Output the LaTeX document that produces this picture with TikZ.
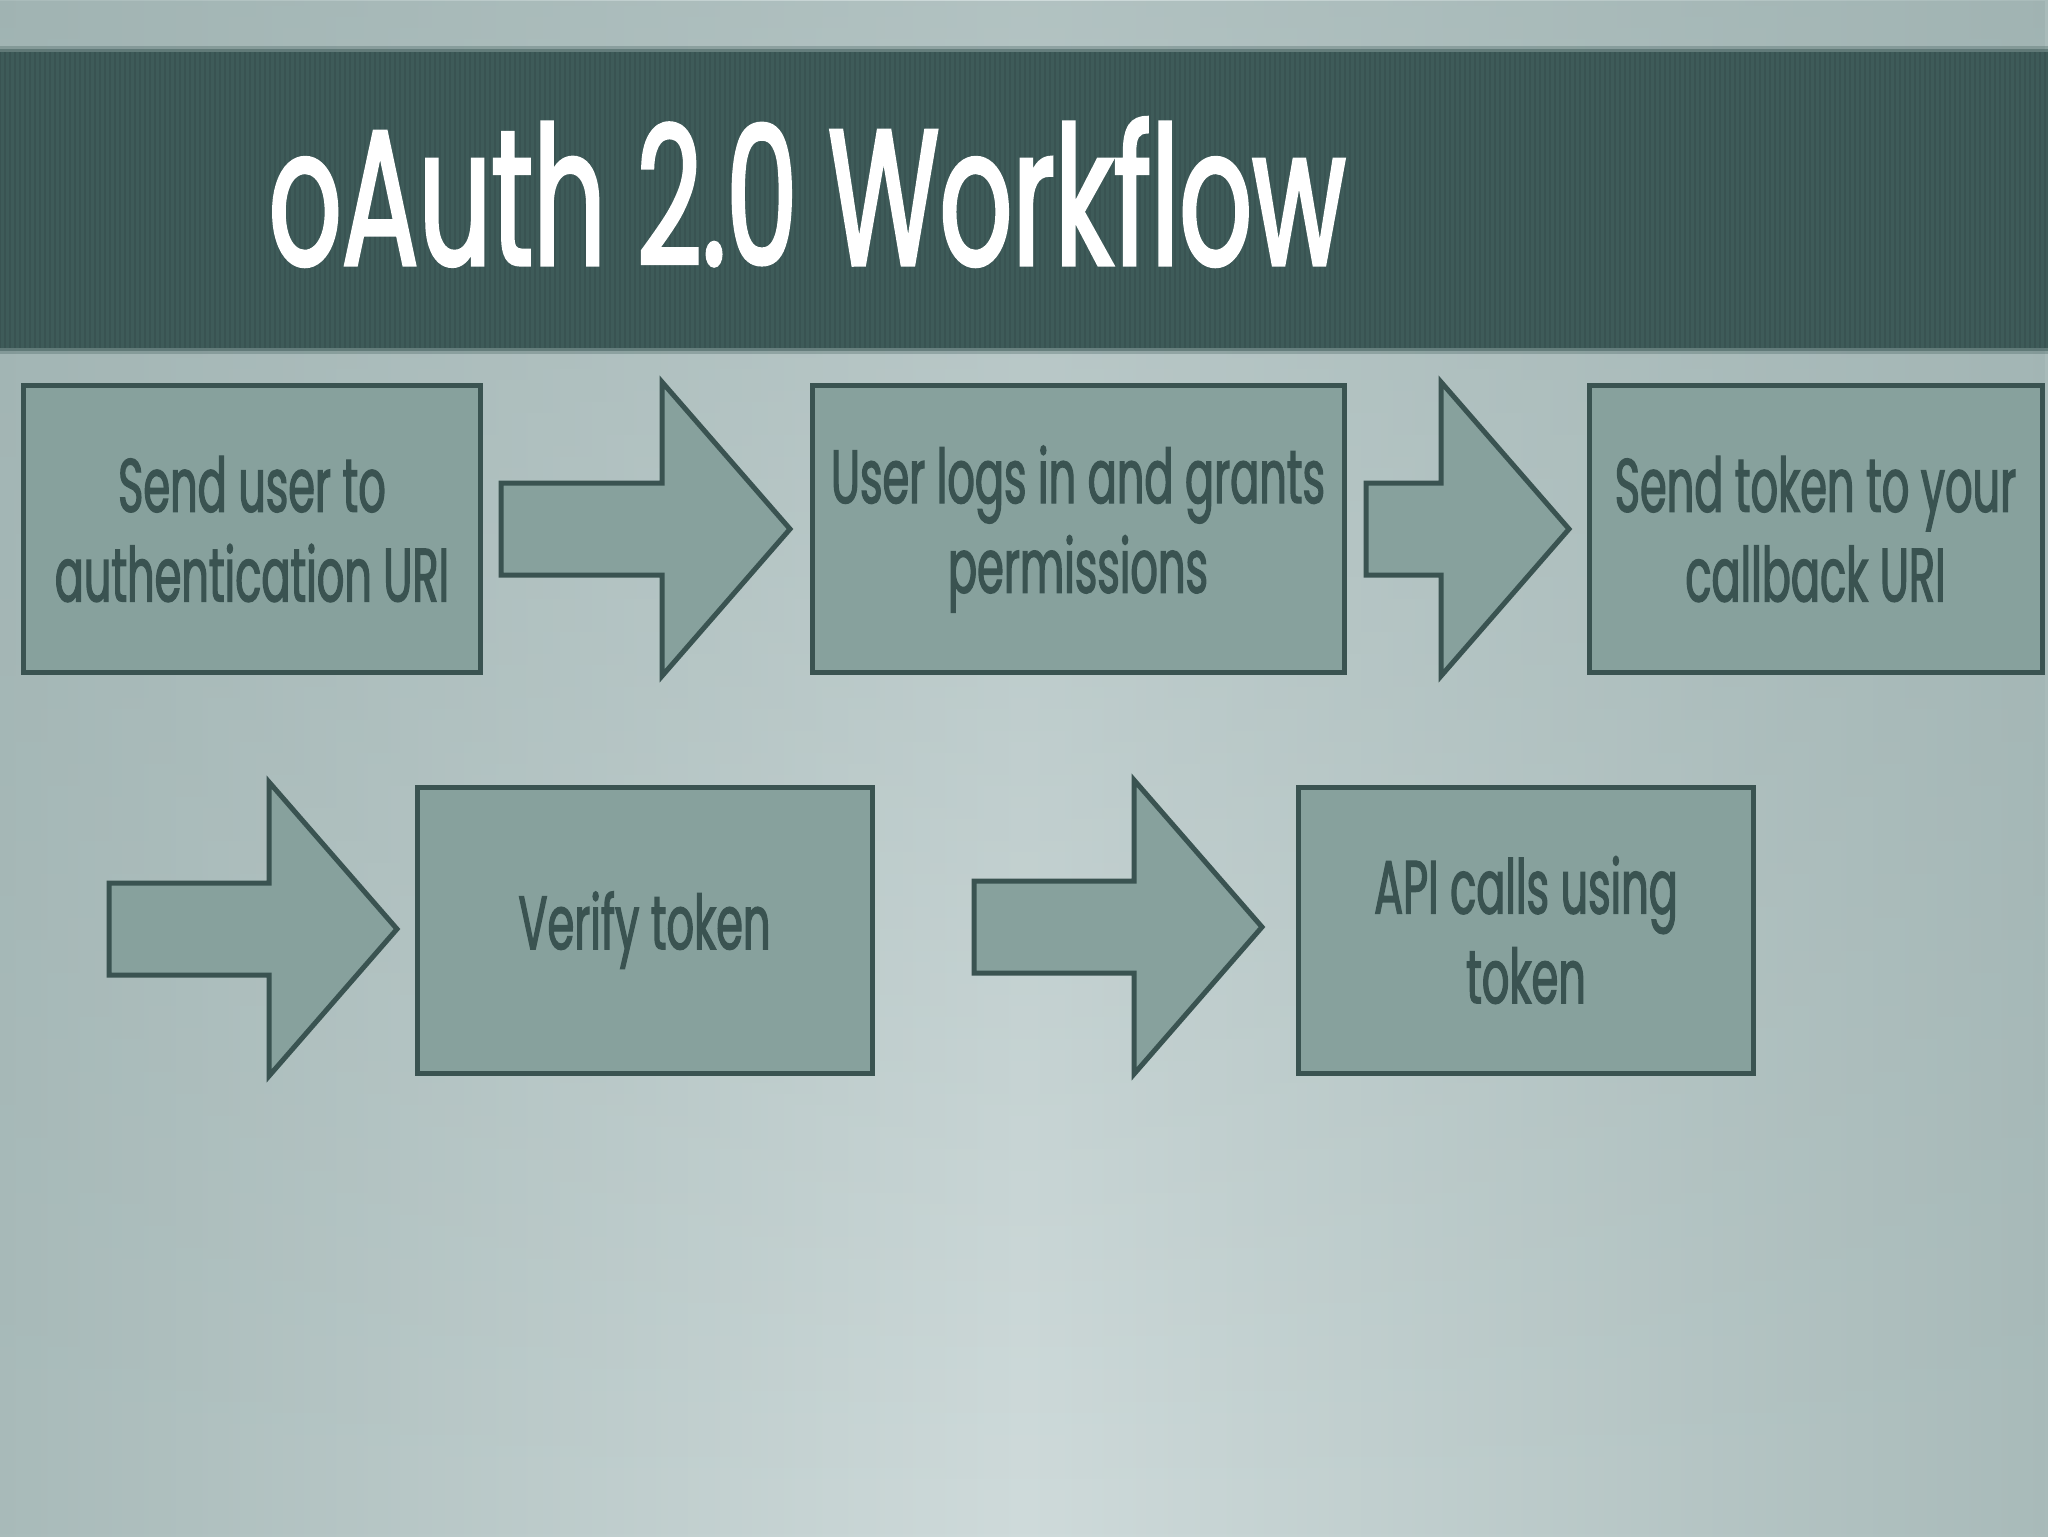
\documentclass[tikz,border=0pt]{standalone}
\usepackage{fontspec}
\setmainfont{Poppins}[FakeStretch=0.57, FakeBold=1.6]
\newfontfamily\titlefont{Poppins}[FakeStretch=0.59, FakeBold=1.6]
\usepackage{tikz}
\usetikzlibrary{fadings}
\definecolor{slidebar}{HTML}{3E5B59}
\definecolor{boxfill}{HTML}{87A19D}
\definecolor{boxline}{HTML}{3A5351}
\definecolor{bgedge}{HTML}{A9BBBA}
\definecolor{bgmid}{HTML}{CFDBDB}
\definecolor{bgtop}{HTML}{9AAEAD}
\tikzfading[name=fadedown, top color=transparent!45, bottom color=transparent!100]
\tikzset{
  stepbox/.style={draw=boxline, line width=0.5mm, fill=boxfill, minimum width=45.5mm,
    minimum height=28.7mm, align=center, text=boxline, inner sep=0pt,
    font=\fontsize{21.5}{25.5}\selectfont},
  bigarrow/.pic={\draw[draw=boxline, line width=0.5mm, fill=boxfill, line join=miter]
    (0,-46) -- (#1,-46) -- (#1,-147) -- (#1+128,0) -- (#1,147) -- (#1,46) -- (0,46) -- cycle;},
}

\begin{document}
\begin{tikzpicture}[x=0.1mm, y=-0.1mm]
\useasboundingbox (0,0) rectangle (2048,1536);
% background
\shade[left color=bgedge, right color=bgedge, middle color=bgmid] (0,0) rectangle (2048,1536);
\fill[bgtop, path fading=fadedown] (0,0) rectangle (2048,1536);
% title bar
\fill[slidebar, opacity=0.3] (0,46) rectangle (2048,354);
\fill[slidebar, opacity=0.5] (0,49) rectangle (2048,351);
\fill[slidebar] (0,52) rectangle (2048,348);
\foreach \sx in {0,5,...,2045}
  \draw[black, opacity=0.08, line width=0.2mm] (\sx,52) -- (\sx,348);
\node[anchor=base west, text=white, inner sep=0pt, font=\titlefont\fontsize{55}{60}\selectfont]
  (title) at (268,265) {oAuth 2.0 Workflow};

% first row
\node[stepbox, minimum width=45.7mm] (send) at (252,529) {Send user to\\authentication URI};
\pic (arr1) at (501,529) {bigarrow=161};
\node[stepbox, minimum width=53.2mm] (grant) at (1078,529) {User logs in and grants\\permissions};
\pic (arr2) at (1366,529) {bigarrow=75};
\node[stepbox, minimum width=45.3mm] (callback) at (1815.5,529) {Send token to your\\callback URI};

% second row
\pic (arr3) at (109,929) {bigarrow=160};
\node[stepbox, minimum height=28.6mm] (verify) at (644.5,930) {Verify token};
\pic (arr4) at (974,927) {bigarrow=160};
\node[stepbox, minimum height=28.6mm] (api) at (1526,930) {API calls using\\token};
\end{tikzpicture}
\end{document}
